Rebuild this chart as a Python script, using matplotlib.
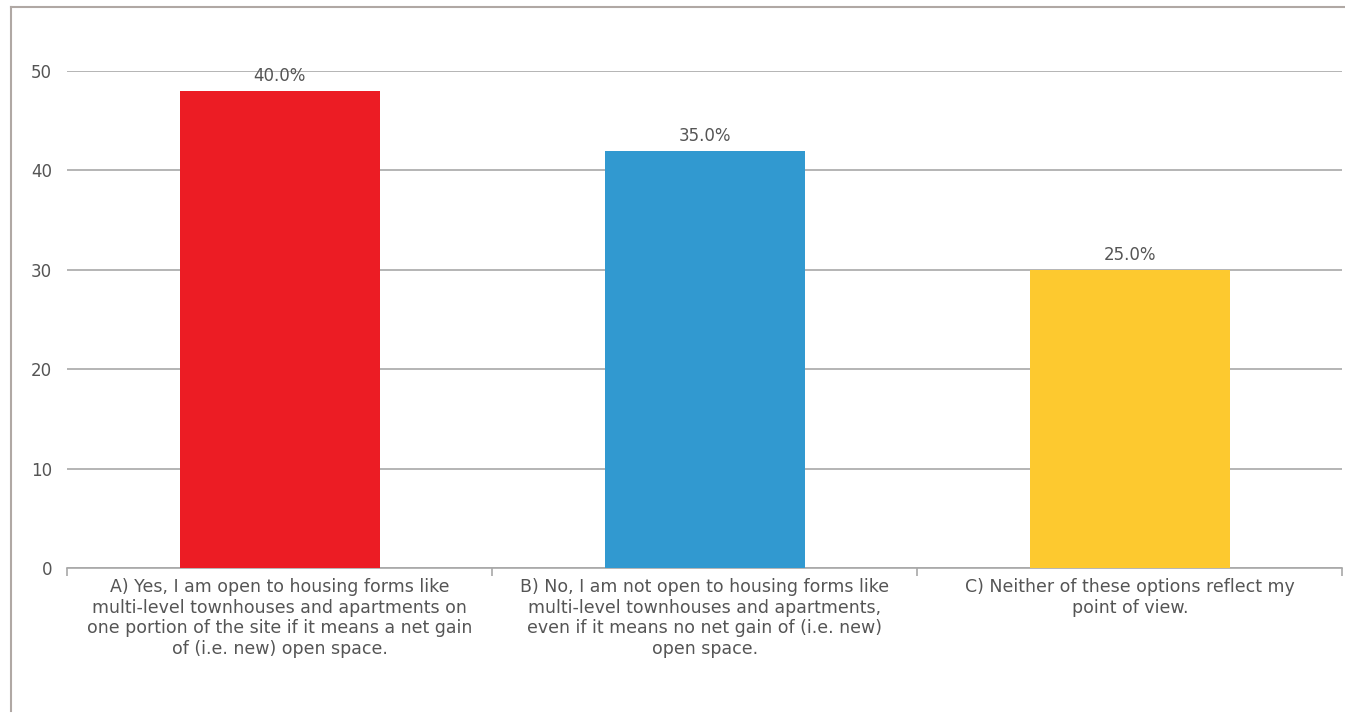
import numpy as np
import matplotlib.pyplot as plt
from matplotlib.lines import Line2D

plt.rcParams['font.family'] = ['DejaVu Sans']

categories = [
    "A) Yes, I am open to housing forms like\nmulti-level townhouses and apartments on\none portion of the site if it means a net gain\nof (i.e. new) open space.",
    "B) No, I am not open to housing forms like\nmulti-level townhouses and apartments,\neven if it means no net gain of (i.e. new)\nopen space.",
    "C) Neither of these options reflect my\npoint of view.",
]
counts = [48, 42, 30]
percents = ["40.0%", "35.0%", "25.0%"]
colors = ["#ec1c24", "#3199d0", "#fdc92f"]

fig = plt.figure(figsize=(13.45, 7.15), dpi=100)
ax = fig.add_axes([0.050, 0.2056, 0.948, 0.695])

x = np.arange(len(categories))
bars = ax.bar(x, counts, width=0.47, color=colors, zorder=3)

for b, p in zip(bars, percents):
    ax.text(b.get_x() + b.get_width() / 2, b.get_height() + 0.55, p,
            ha='center', va='bottom', fontsize=12, color='#555555')

ax.set_xlim(-0.5, 2.5)
ax.set_ylim(0, 50)
ax.set_yticks([0, 10, 20, 30, 40, 50])
ax.yaxis.grid(True, color='#a8a8a8', linewidth=1.2, zorder=0)
ax.tick_params(axis='y', length=0, pad=11, labelsize=12, labelcolor='#555555')

ax.set_xticks(x)
ax.set_xticklabels(categories, fontsize=12.5, color='#555555', linespacing=1.2)
ax.tick_params(axis='x', length=0, pad=7)
ax.set_xticks([-0.5, 0.5, 1.5, 2.5], minor=True)
ax.tick_params(axis='x', which='minor', length=6, color='#a8a8a8', width=1.2)

for s in ['top', 'right', 'left']:
    ax.spines[s].set_visible(False)
ax.spines['bottom'].set_color('#a8a8a8')
ax.spines['bottom'].set_linewidth(1.2)

# frame: top and left edges only
fig.lines.append(Line2D([11 / 1345, 1.0], [1 - 7 / 715, 1 - 7 / 715],
                        transform=fig.transFigure, color='#b0a8a4', linewidth=1.5))
fig.lines.append(Line2D([11 / 1345, 11 / 1345], [1 - 7 / 715, 4 / 715],
                        transform=fig.transFigure, color='#b0a8a4', linewidth=1.5))

fig.savefig("out.png", dpi=100)
